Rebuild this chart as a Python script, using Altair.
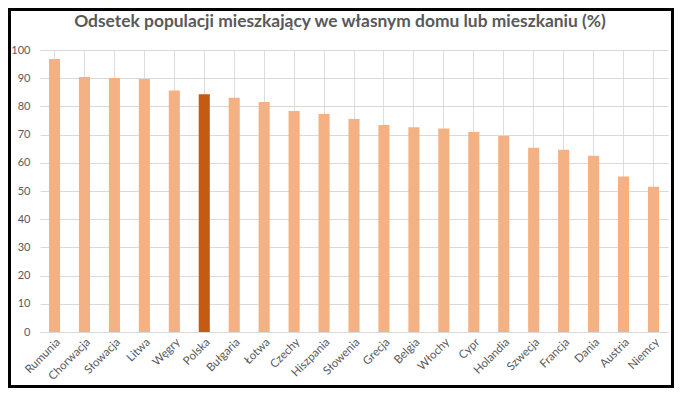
import altair as alt
import pandas as pd

countries = ["Rumunia", "Chorwacja", "Słowacja", "Litwa", "Węgry", "Polska", "Bułgaria",
             "Łotwa", "Czechy", "Hiszpania", "Słowenia", "Grecja", "Belgia", "Włochy",
             "Cypr", "Holandia", "Szwecja", "Francja", "Dania", "Austria", "Niemcy"]
values = [96.8, 90.4, 90.1, 89.7, 85.6, 84.3, 83.1,
          81.6, 78.4, 77.3, 75.5, 73.4, 72.6, 72.2,
          70.9, 69.5, 65.3, 64.6, 62.5, 55.1, 51.5]
highlight = "Polska"

df = pd.DataFrame({"kraj": countries, "wartosc": values})
df["grupa"] = ["hl" if c == highlight else "base" for c in countries]

W, H = 628, 282
PL, PT, PR, PB = 32, 42, 6, 56

bars = alt.Chart(df).mark_bar().encode(
    x=alt.X("kraj:N", sort=countries, title=None,
            scale=alt.Scale(paddingInner=0.63, paddingOuter=0.3),
            axis=alt.Axis(labelAngle=-45, labelAlign="right", labelBaseline="top",
                          labelFontSize=11.5, labelColor="#595959", labelFont="Lato",
                          ticks=False, domainColor="#d9d9d9", labelPadding=4,
                          labelOverlap=False)),
    y=alt.Y("wartosc:Q", title=None,
            scale=alt.Scale(domain=[0, 100], nice=False),
            axis=alt.Axis(values=list(range(0, 101, 10)), labelFontSize=11,
                          labelColor="#595959", labelFont="Lato", ticks=False,
                          domain=False, gridColor="#d9d9d9", labelPadding=10)),
    color=alt.Color("grupa:N", scale=alt.Scale(domain=["base", "hl"],
                                               range=["#F4B183", "#C55A11"]),
                    legend=None),
)

frame = alt.Chart(df).mark_rect(fill=None, stroke="black", strokeWidth=3).encode(
    x=alt.value(-PL + 1.5), x2=alt.value(W + PR - 1.5),
    y=alt.value(-PT + 1.5), y2=alt.value(H + PB - 1.5),
)

chart = alt.layer(bars, frame).properties(
    width=W, height=H,
    autosize=alt.AutoSizeParams(type="none"),
    padding={"left": PL, "top": PT, "right": PR, "bottom": PB},
    title=alt.TitleParams("Odsetek populacji mieszkający we własnym domu lub mieszkaniu (%)",
                          font="Lato", fontSize=17.4, fontWeight="bold", color="#595959",
                          anchor="middle", dx=-14, offset=-22),
).configure_view(stroke=None).configure_axis(grid=True)

chart.save("out.html", embed_options={"renderer": "svg", "actions": False})
